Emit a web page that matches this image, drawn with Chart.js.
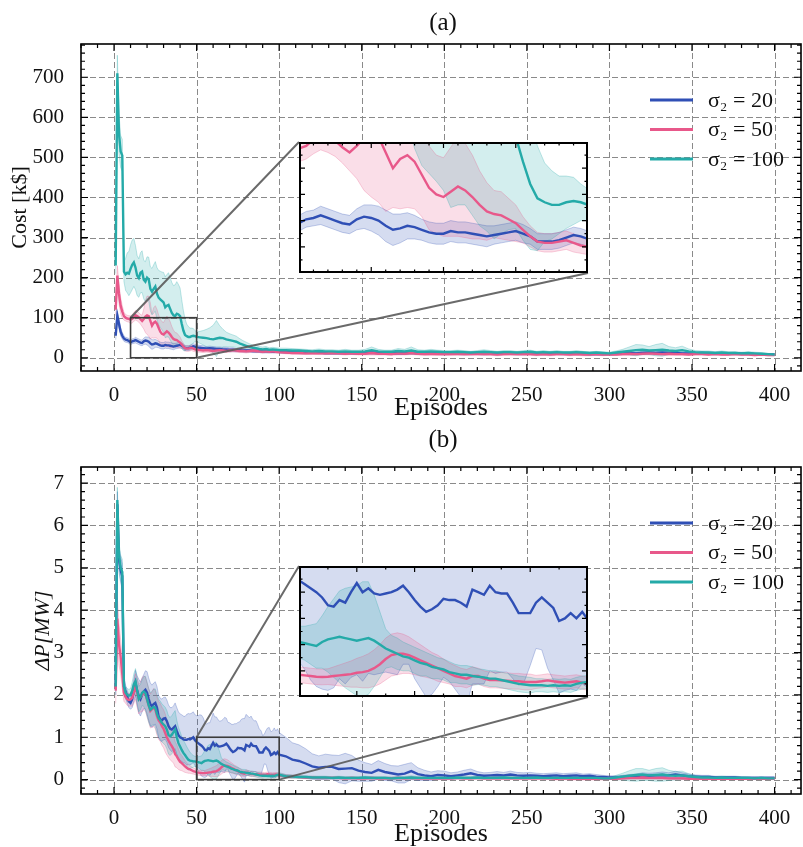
<!DOCTYPE html>
<html><head><meta charset="utf-8">
<script src="https://cdn.jsdelivr.net/npm/chart.js@4.4.1/dist/chart.umd.min.js"></script>
<style>
html,body{margin:0;padding:0;background:#fff;}
#wrap{position:relative;width:803px;height:847px;overflow:hidden;background:#fff;}
.box{position:absolute;}
</style></head><body>
<div id="wrap">
 <div class="box" id="boxA"><canvas id="chartA"></canvas></div>
 <div class="box" id="boxB"><canvas id="chartB"></canvas></div>
 <div class="box" id="boxIA"><canvas id="insetA"></canvas></div>
 <div class="box" id="boxIB"><canvas id="insetB"></canvas></div>
</div>
<script>
// ---------------- DATA ----------------
const episodesA = [
 1,2,3,4,5,6,7,8,9,10, 11,12,13,14,15,16,17,18,19,20, 21,22,23,24,25,26,27,28,29,30, 31,32,33,34,35,36,37,38,39,40, 41,42,43,44,45,46,47,48,49,50,
 52,54,56,58,60,62,64,66,68,70,72,74,76,78,80,82,84,86,88,90,92,94,96,98,100,
 104,108,112,116,120,124,128,132,136,140,144,148,152,156,160,164,168,172,176,180,184,188,192,196,200,
 204,208,212,216,220,224,228,232,236,240,244,248,252,256,260,264,268,272,276,280,284,288,292,296,300,
 304,308,312,316,320,324,328,332,336,340,344,348,352,356,360,364,368,372,376,380,384,388,392,396,400];

const episodesB = [
 1,2,3,4,5,6,7,8,9,10, 11,12,13,14,15,16,17,18,19,20, 21,22,23,24,25,26,27,28,29,30, 31,32,33,34,35,36,37,38,39,40, 41,42,43,44,45,46,47,48,49,50,
 51,52,53,54,55,56,57,58,59,60, 61,62,63,64,65,66,67,68,69,70, 71,72,73,74,75,76,77,78,79,80, 81,82,83,84,85,86,87,88,89,90, 91,92,93,94,95,96,97,98,99,100,
 104,108,112,116,120,124,128,132,136,140,144,148,152,156,160,164,168,172,176,180,184,188,192,196,200,
 204,208,212,216,220,224,228,232,236,240,244,248,252,256,260,264,268,272,276,280,284,288,292,296,300,
 304,308,312,316,320,324,328,332,336,340,344,348,352,356,360,364,368,372,376,380,384,388,392,396,400];

// (a) Cost [k$]
const costBlue = [
 55,105,85,65,55,48,45,44,42,38, 41,42,44,42,40,38,37,41,43,42, 40,36,33,34,36,35,33,31,30,30, 32,31,31,30,29,28,29,30,31,32, 30,28,24,24,24,25,27,29,28,26,
 25,24,23,24,23,22,22,21,21,20,20,19,19,18,18,18,17,17,17,16,16,16,15,15,15,
 14,14,13,13,13,13,12,12,12,12,12,11,12,13,12,11,11,12,11,13,11,11,11,11,10,
 11,11,10,11,11,10,11,10,11,11,10,10,11,10,10,10,11,10,10,10,10,9,10,9,9,
 10,11,12,11,12,13,12,13,12,12,11,11,11,12,11,11,11,10,11,10,10,9,9,8,8];
const costBlueStd = [
 10,12,12,10,8,7,6,6,6,6, 6,6,7,7,7,7,7,8,9,10, 11,12,12,11,10,9,8,8,8,8, 8,8,8,8,8,8,7,7,7,7, 7,6,6,6,6,6,6,6,6,6,
 6,6,5,5,5,5,5,5,5,5,5,4,4,4,4,4,4,4,4,4,4,4,3,3,3,
 3,3,3,3,3,3,3,3,3,3,3,3,3,4,3,3,3,3,3,4,3,3,3,3,3,
 3,3,3,3,3,3,3,3,3,3,3,3,3,3,3,3,3,3,3,3,3,3,3,3,2,
 3,3,4,3,4,4,3,4,3,3,3,3,3,3,3,3,3,3,3,3,2,2,2,2,2];
const costPink = [
 120,205,160,130,115,104,100,98,97,95, 97,102,106,104,101,96,92,97,103,106, 104,92,80,87,90,85,75,65,60,58, 62,66,63,58,52,47,45,44,41,38, 33,28,24,23,23,24,25,23,21,20,
 19,18,19,18,17,18,19,18,17,18,19,18,17,17,16,17,18,17,16,15,16,15,16,15,14,
 13,12,12,11,12,11,11,12,11,10,11,10,10,12,10,10,9,11,10,12,10,9,10,9,9,
 9,10,9,9,10,9,9,8,9,10,9,9,9,8,9,8,9,9,8,9,8,8,9,8,8,
 8,9,10,9,10,11,10,9,10,9,9,8,9,9,8,9,8,8,9,8,8,7,8,7,7];
const costPinkStd = [
 15,25,25,20,15,10,8,8,8,10, 10,11,12,12,12,12,14,25,40,48, 50,45,30,38,40,36,32,32,30,30, 34,38,36,32,26,22,18,18,16,14, 10,8,7,7,7,7,7,7,6,6,
 5,5,5,5,5,4,4,4,4,4,4,4,4,4,4,4,4,4,3,3,3,3,3,3,3,
 3,3,3,3,3,3,3,3,3,3,3,3,3,5,3,3,3,4,3,4,3,3,3,3,3,
 3,3,3,3,3,3,3,3,3,3,3,3,3,3,3,3,3,3,3,3,3,3,3,3,2,
 2,3,3,3,3,4,3,3,3,3,3,2,2,2,2,2,2,2,2,2,2,2,2,2,2];
const costTeal = [
 230,710,560,515,505,215,208,212,210,222, 232,238,225,205,199,212,215,195,190,200, 196,172,165,172,178,160,150,146,142,138, 126,130,132,122,112,106,104,110,108,104, 85,68,57,54,52,52,54,55,54,52,
 51,50,49,47,46,48,50,49,46,44,42,40,36,33,30,27,25,24,22,21,22,20,21,20,19,
 19,18,18,17,16,17,16,16,15,16,15,15,16,19,16,15,15,17,16,18,15,15,16,15,14,
 14,15,14,13,14,15,14,13,14,14,13,14,15,13,14,13,14,13,13,14,13,12,13,12,11,
 13,15,17,19,20,18,19,20,18,17,19,16,14,13,13,12,13,12,12,11,12,11,10,9,8];
const costTealStd = [
 20,45,50,40,40,25,40,50,55,60, 62,60,55,50,48,50,52,48,50,52, 55,55,58,60,62,65,68,70,72,75, 76,78,80,78,76,74,78,80,75,70, 60,50,40,30,26,22,20,18,14,12,
 15,18,22,28,35,45,30,22,18,16,15,14,12,10,9,8,7,7,6,6,6,5,5,5,5,
 5,5,4,4,4,5,4,4,4,5,4,4,5,8,5,4,4,6,5,9,5,4,5,4,4,
 4,4,4,3,4,5,4,3,4,4,3,4,4,3,4,3,4,3,3,4,3,3,3,3,3,
 4,6,10,14,12,10,14,16,10,8,10,6,4,4,4,3,4,3,3,3,3,3,3,2,2];

// (b) ΔP [MW]
const dpBlue = [
 2.2,6.5,5.2,4.95,4.8,2.2,2.08,1.95,1.85,1.81, 1.9,2.1,2.28,2.1,1.97,1.9,2.0,2.08,2.12,2.05, 1.9,1.78,1.73,1.78,1.81,1.7,1.49,1.42,1.4,1.44, 1.45,1.38,1.26,1.2,1.18,1.22,1.26,1.15,1.05,1.0, 0.98,0.95,0.94,0.94,0.96,0.95,0.97,1.0,0.93,0.89,
 0.86,0.83,0.8,0.76,0.7,0.69,0.74,0.72,0.8,0.87, 0.8,0.83,0.79,0.78,0.79,0.8,0.82,0.85,0.8,0.74, 0.69,0.65,0.67,0.7,0.75,0.74,0.74,0.72,0.69,0.82, 0.8,0.78,0.85,0.8,0.79,0.79,0.72,0.64,0.64,0.64, 0.72,0.76,0.72,0.68,0.58,0.6,0.64,0.6,0.65,0.59,
 0.55,0.47,0.44,0.38,0.31,0.28,0.3,0.3,0.25,0.26,0.27,0.21,0.18,0.16,0.23,0.18,0.15,0.12,0.14,0.2,0.13,0.1,0.08,0.11,0.1,
 0.08,0.1,0.12,0.15,0.11,0.09,0.1,0.11,0.1,0.12,0.1,0.09,0.1,0.09,0.08,0.09,0.1,0.08,0.09,0.1,0.08,0.09,0.07,0.06,0.05,
 0.05,0.06,0.07,0.08,0.1,0.09,0.1,0.11,0.1,0.12,0.1,0.08,0.07,0.06,0.06,0.05,0.05,0.05,0.05,0.04,0.04,0.04,0.04,0.04,0.04];
const dpBlueStd = [
 0.2,0.3,0.3,0.3,0.3,0.2,0.15,0.15,0.15,0.15, 0.2,0.25,0.3,0.35,0.4,0.4,0.4,0.4,0.45,0.5, 0.5,0.5,0.5,0.5,0.5,0.5,0.5,0.5,0.5,0.5, 0.5,0.5,0.5,0.5,0.52,0.52,0.55,0.55,0.55,0.55, 0.55,0.55,0.55,0.6,0.6,0.6,0.6,0.6,0.6,0.62,
 0.65,0.7,0.72,0.7,0.65,0.62,0.6,0.62,0.65,0.7, 0.68,0.65,0.62,0.6,0.6,0.62,0.65,0.6,0.55,0.6, 0.62,0.65,0.65,0.62,0.6,0.62,0.68,0.72,0.75,0.72, 0.7,0.68,0.65,0.62,0.6,0.6,0.58,0.55,0.52,0.4, 0.35,0.4,0.5,0.55,0.55,0.55,0.58,0.55,0.55,0.52,
 0.45,0.4,0.38,0.35,0.3,0.28,0.3,0.28,0.32,0.36,0.3,0.25,0.22,0.2,0.22,0.2,0.18,0.2,0.22,0.2,0.15,0.12,0.1,0.1,0.1,
 0.08,0.08,0.1,0.1,0.08,0.07,0.07,0.08,0.07,0.08,0.07,0.07,0.07,0.06,0.06,0.06,0.06,0.06,0.06,0.06,0.05,0.05,0.05,0.04,0.04,
 0.04,0.04,0.05,0.05,0.06,0.06,0.06,0.07,0.06,0.08,0.06,0.05,0.04,0.04,0.04,0.03,0.03,0.03,0.03,0.03,0.03,0.03,0.03,0.03,0.03];
const dpPink = [
 2.1,3.8,3.2,2.9,2.5,2.05,1.95,1.9,1.88,1.89, 1.93,2.05,2.2,2.05,1.9,1.95,2.0,2.05,2.02,1.88, 1.75,1.62,1.66,1.7,1.65,1.5,1.4,1.35,1.26,1.2, 1.1,1.0,0.92,0.85,0.79,0.72,0.6,0.55,0.48,0.42, 0.39,0.35,0.31,0.28,0.25,0.24,0.22,0.2,0.19,0.17,
 0.165,0.16,0.155,0.153,0.155,0.16,0.165,0.17,0.175,0.185, 0.19,0.2,0.22,0.25,0.29,0.32,0.33,0.33,0.32,0.3, 0.28,0.26,0.24,0.22,0.2,0.18,0.16,0.15,0.14,0.16, 0.16,0.14,0.13,0.13,0.127,0.125,0.12,0.12,0.115,0.115, 0.115,0.12,0.127,0.12,0.115,0.11,0.115,0.12,0.11,0.1,
 0.08,0.07,0.06,0.05,0.05,0.04,0.04,0.04,0.04,0.03,0.04,0.03,0.03,0.04,0.03,0.03,0.03,0.04,0.03,0.04,0.03,0.03,0.03,0.03,0.03,
 0.03,0.04,0.03,0.03,0.04,0.03,0.03,0.03,0.03,0.03,0.03,0.03,0.03,0.03,0.03,0.03,0.02,0.03,0.02,0.02,0.02,0.02,0.02,0.02,0.02,
 0.02,0.03,0.04,0.04,0.05,0.04,0.04,0.04,0.03,0.03,0.03,0.02,0.02,0.02,0.02,0.02,0.02,0.02,0.02,0.02,0.02,0.02,0.02,0.02,0.02];
const dpPinkStd = [
 0.3,0.5,0.5,0.4,0.35,0.2,0.15,0.15,0.15,0.15, 0.2,0.25,0.3,0.35,0.35,0.35,0.4,0.4,0.4,0.4, 0.4,0.4,0.42,0.45,0.45,0.45,0.45,0.45,0.45,0.45, 0.45,0.42,0.4,0.38,0.36,0.33,0.3,0.27,0.24,0.2, 0.18,0.16,0.14,0.12,0.1,0.09,0.08,0.07,0.07,0.06,
 0.06,0.06,0.06,0.06,0.06,0.07,0.08,0.09,0.1,0.11, 0.12,0.13,0.14,0.15,0.16,0.16,0.16,0.15,0.14,0.13, 0.12,0.11,0.1,0.1,0.09,0.08,0.08,0.07,0.07,0.07, 0.06,0.06,0.06,0.06,0.06,0.06,0.06,0.06,0.06,0.06, 0.05,0.05,0.05,0.05,0.05,0.05,0.05,0.05,0.05,0.05,
 0.04,0.04,0.03,0.03,0.03,0.03,0.03,0.03,0.03,0.03,0.03,0.03,0.03,0.03,0.03,0.03,0.03,0.03,0.03,0.03,0.03,0.03,0.03,0.03,0.03,
 0.03,0.03,0.03,0.03,0.03,0.03,0.03,0.03,0.03,0.03,0.03,0.03,0.03,0.03,0.03,0.03,0.03,0.03,0.03,0.03,0.03,0.03,0.03,0.03,0.02,
 0.02,0.03,0.04,0.04,0.05,0.04,0.04,0.04,0.03,0.03,0.03,0.02,0.02,0.02,0.02,0.02,0.02,0.02,0.02,0.02,0.02,0.02,0.02,0.02,0.02];
const dpTeal = [
 2.2,6.6,5.3,5.0,4.9,2.2,2.05,2.0,1.98,2.0, 2.1,2.25,2.32,2.1,1.9,1.95,2.05,2.08,2.04,1.9, 1.75,1.65,1.68,1.72,1.69,1.55,1.45,1.4,1.34,1.3, 1.26,1.18,1.05,1.02,1.06,1.12,1.18,1.0,0.86,0.78, 0.7,0.63,0.58,0.52,0.47,0.45,0.44,0.43,0.43,0.42,
 0.41,0.4,0.39,0.42,0.44,0.45,0.46,0.45,0.44,0.43, 0.44,0.45,0.43,0.4,0.37,0.35,0.33,0.31,0.3,0.28, 0.26,0.25,0.23,0.22,0.21,0.19,0.18,0.17,0.17,0.16, 0.155,0.15,0.14,0.14,0.13,0.12,0.11,0.1,0.095,0.09, 0.09,0.09,0.085,0.09,0.085,0.09,0.085,0.1,0.11,0.115,
 0.08,0.07,0.06,0.06,0.05,0.05,0.05,0.04,0.05,0.04,0.04,0.04,0.05,0.04,0.04,0.04,0.03,0.04,0.04,0.05,0.04,0.04,0.04,0.04,0.04,
 0.04,0.05,0.04,0.04,0.05,0.04,0.04,0.04,0.05,0.04,0.04,0.04,0.04,0.05,0.04,0.04,0.04,0.04,0.04,0.04,0.04,0.04,0.04,0.03,0.03,
 0.05,0.07,0.09,0.11,0.12,0.1,0.11,0.12,0.1,0.09,0.1,0.08,0.06,0.05,0.05,0.04,0.05,0.04,0.04,0.04,0.04,0.03,0.04,0.03,0.03];
const dpTealStd = [
 0.2,0.3,0.3,0.3,0.3,0.2,0.15,0.15,0.15,0.15, 0.2,0.25,0.3,0.3,0.3,0.3,0.3,0.35,0.4,0.4, 0.4,0.4,0.4,0.42,0.45,0.45,0.45,0.45,0.45,0.45, 0.45,0.45,0.45,0.45,0.45,0.45,0.45,0.4,0.38,0.35, 0.32,0.3,0.28,0.26,0.24,0.2,0.16,0.14,0.12,0.12,
 0.13,0.15,0.17,0.2,0.25,0.3,0.35,0.38,0.4,0.42, 0.44,0.43,0.35,0.25,0.15,0.12,0.12,0.11,0.1,0.1, 0.1,0.09,0.09,0.08,0.08,0.08,0.07,0.07,0.07,0.07, 0.06,0.06,0.06,0.06,0.06,0.06,0.06,0.06,0.06,0.06, 0.05,0.05,0.05,0.05,0.05,0.05,0.05,0.05,0.05,0.05,
 0.04,0.04,0.03,0.03,0.03,0.03,0.03,0.03,0.03,0.03,0.03,0.03,0.03,0.03,0.03,0.03,0.03,0.03,0.03,0.04,0.03,0.03,0.03,0.03,0.03,
 0.03,0.03,0.03,0.03,0.03,0.03,0.03,0.03,0.03,0.03,0.03,0.03,0.03,0.03,0.03,0.03,0.03,0.03,0.03,0.03,0.03,0.03,0.03,0.03,0.02,
 0.05,0.08,0.12,0.15,0.14,0.12,0.15,0.16,0.12,0.1,0.1,0.06,0.04,0.03,0.03,0.03,0.03,0.03,0.03,0.03,0.02,0.02,0.02,0.02,0.02];

const seriesLabels = ['σ₂ = 20', 'σ₂ = 50', 'σ₂ = 100'];
const panelTitles = ['(a)', '(b)'];
const xTickValues = [0, 50, 100, 150, 200, 250, 300, 350, 400];
const costTickValues = [0, 100, 200, 300, 400, 500, 600, 700];
const dpTickValues = [0, 1, 2, 3, 4, 5, 6, 7];

// ---------------- STYLE ----------------
const FONT = '"Liberation Serif","Times New Roman",serif';
const COLORS = [[47, 79, 181], [232, 88, 138], [36, 170, 168]];
const rgba = (c, a) => `rgba(${c[0]},${c[1]},${c[2]},${a})`;

function checkLen(ep, arrs, name) {
  arrs.forEach((a, i) => { if (a.length !== ep.length) throw new Error(name + ' #' + i + ' length ' + a.length + ' != ' + ep.length); });
}
checkLen(episodesA, [costBlue, costBlueStd, costPink, costPinkStd, costTeal, costTealStd], 'cost');
checkLen(episodesB, [dpBlue, dpBlueStd, dpPink, dpPinkStd, dpTeal, dpTealStd], 'dp');

const costSeries = [
  {label: seriesLabels[0], mean: costBlue, std: costBlueStd, rgb: COLORS[0]},
  {label: seriesLabels[1], mean: costPink, std: costPinkStd, rgb: COLORS[1]},
  {label: seriesLabels[2], mean: costTeal, std: costTealStd, rgb: COLORS[2]}];
const dpSeries = [
  {label: seriesLabels[0], mean: dpBlue, std: dpBlueStd, rgb: COLORS[0]},
  {label: seriesLabels[1], mean: dpPink, std: dpPinkStd, rgb: COLORS[1]},
  {label: seriesLabels[2], mean: dpTeal, std: dpTealStd, rgb: COLORS[2]}];

function buildDatasets(ep, list, lw) {
  const ds = [];
  list.forEach((s, k) => {
    const pts = f => ep.map((x, i) => ({x, y: f(i)}));
    ds.push({label: s.label + ' +std', data: pts(i => s.mean[i] + s.std[i]), borderColor: rgba(s.rgb, 0.28), borderWidth: 1,
      backgroundColor: rgba(s.rgb, 0.2), fill: '+1', pointRadius: 0, tension: 0, order: 12 - k});
    ds.push({label: s.label + ' -std', data: pts(i => s.mean[i] - s.std[i]), borderColor: rgba(s.rgb, 0.28), borderWidth: 1,
      fill: false, pointRadius: 0, tension: 0, order: 12 - k});
    ds.push({label: s.label, data: pts(i => s.mean[i]), borderColor: rgba(s.rgb, 1), borderWidth: lw,
      fill: false, pointRadius: 0, tension: 0, order: 3 - k});
  });
  return ds;
}

function range(min, max, step) {
  const out = [];
  const k0 = Math.ceil(min / step - 1e-9), k1 = Math.floor(max / step + 1e-9);
  for (let k = k0; k <= k1; k++) out.push(+(k * step).toFixed(6));
  return out;
}

function drawInTicks(ctx, a, xs, ys, xMaj, xMin, yMaj, yMin, majLen, minLen) {
  ctx.save();
  ctx.strokeStyle = '#000'; ctx.lineWidth = 1.2; ctx.setLineDash([]);
  ctx.beginPath();
  const vx = (v, len) => { const p = xs.getPixelForValue(v); if (p < a.left - 0.5 || p > a.right + 0.5) return;
    ctx.moveTo(p, a.bottom); ctx.lineTo(p, a.bottom - len); ctx.moveTo(p, a.top); ctx.lineTo(p, a.top + len); };
  const vy = (v, len) => { const p = ys.getPixelForValue(v); if (p < a.top - 0.5 || p > a.bottom + 0.5) return;
    ctx.moveTo(a.left, p); ctx.lineTo(a.left + len, p); ctx.moveTo(a.right, p); ctx.lineTo(a.right - len, p); };
  xMaj.forEach(v => vx(v, majLen)); xMin.forEach(v => vx(v, minLen));
  yMaj.forEach(v => vy(v, majLen)); yMin.forEach(v => vy(v, minLen));
  ctx.stroke();
  ctx.restore();
}

function mainDeco(g) {
  return {
    id: 'mainDeco',
    beforeDraw(c) {
      const ctx = c.ctx, a = c.chartArea, x = c.scales.x, y = c.scales.y;
      ctx.save();
      ctx.fillStyle = '#fff'; ctx.fillRect(0, 0, c.width, c.height);
      ctx.strokeStyle = '#8a8a8a'; ctx.lineWidth = 1; ctx.setLineDash([6, 3]);
      ctx.beginPath();
      xTickValues.forEach(v => { const p = Math.round(x.getPixelForValue(v)) + 0.5; ctx.moveTo(p, a.top); ctx.lineTo(p, a.bottom); });
      g.yTicks.forEach(v => { const p = Math.round(y.getPixelForValue(v)) + 0.5; ctx.moveTo(a.left, p); ctx.lineTo(a.right, p); });
      ctx.stroke();
      ctx.restore();
    },
    afterDatasetsDraw(c) {
      const ctx = c.ctx, x = c.scales.x, y = c.scales.y, r = g.zoom, ins = g.inset;
      const x0 = x.getPixelForValue(r.x0), x1 = x.getPixelForValue(r.x1);
      const y0 = y.getPixelForValue(r.y0), y1 = y.getPixelForValue(r.y1);
      const iy = ins.top - g.offsetTop;
      ctx.save();
      ctx.setLineDash([]);
      ctx.strokeStyle = 'rgba(90,90,90,0.9)'; ctx.lineWidth = 2;
      ctx.beginPath();
      ctx.moveTo(x0, y1); ctx.lineTo(ins.left, iy);
      ctx.moveTo(x1, y0); ctx.lineTo(ins.left + ins.width, iy + ins.height);
      ctx.stroke();
      ctx.strokeStyle = '#3c3c3c'; ctx.lineWidth = 1.6;
      ctx.strokeRect(x0, y1, x1 - x0, y0 - y1);
      ctx.restore();
    },
    afterDraw(c) {
      const ctx = c.ctx, a = c.chartArea, x = c.scales.x, y = c.scales.y;
      drawInTicks(ctx, a, x, y, xTickValues, range(-20, 416, 10), g.yTicks, range(g.yMin, g.yMax, g.yMinorStep), 7, 4);
      ctx.save();
      ctx.strokeStyle = '#000'; ctx.lineWidth = 1.6; ctx.setLineDash([]);
      ctx.strokeRect(a.left, a.top, a.right - a.left, a.bottom - a.top);
      ctx.fillStyle = '#111';
      const cx = (a.left + a.right) / 2;
      ctx.font = '25px ' + FONT; ctx.textAlign = 'center'; ctx.textBaseline = 'middle';
      ctx.fillText(g.title, cx + 2, g.titleY);
      ctx.font = '26px ' + FONT; ctx.textBaseline = 'alphabetic';
      ctx.fillText('Episodes', cx, a.bottom + g.xTitleDy);
      ctx.save();
      ctx.translate(g.yTitleX, (a.top + a.bottom) / 2); ctx.rotate(-Math.PI / 2);
      ctx.font = g.yTitleFont; ctx.textAlign = 'center'; ctx.textBaseline = 'middle';
      ctx.fillText(g.yTitle, 0, 0);
      ctx.restore();
      // legend
      g.series.forEach((s, i) => {
        const ly = a.top + 56 + i * 29.5;
        ctx.strokeStyle = rgba(s.rgb, 1); ctx.lineWidth = 2.8;
        ctx.beginPath(); ctx.moveTo(650, ly); ctx.lineTo(693, ly); ctx.stroke();
        ctx.font = '22px ' + FONT; ctx.textAlign = 'left'; ctx.textBaseline = 'middle'; ctx.fillStyle = '#111';
        ctx.fillText(s.label, 708, ly + 1);
      });
      ctx.restore();
    }
  };
}

function mainChart(id, boxId, g) {
  const box = document.getElementById(boxId);
  Object.assign(box.style, {left: '0px', top: g.offsetTop + 'px', width: '803px', height: g.height + 'px'});
  const tickFont = {family: FONT, size: 21};
  return new Chart(document.getElementById(id), {
    type: 'line',
    data: {datasets: buildDatasets(g.ep, g.series, 2.4)},
    options: {
      responsive: true, maintainAspectRatio: false, animation: false, devicePixelRatio: 1, events: [],
      layout: {padding: {top: g.padTop, right: 2, bottom: 0, left: 0}},
      plugins: {legend: {display: false}, tooltip: {enabled: false}, filler: {drawTime: 'beforeDatasetsDraw'}},
      scales: {
        x: {type: 'linear', min: -20, max: 416, grid: {display: false}, border: {display: false},
          afterBuildTicks: s => { s.ticks = xTickValues.map(v => ({value: v})); },
          afterFit: s => { s.height = g.xAxisH; },
          ticks: {font: tickFont, color: '#111', padding: 4, maxRotation: 0, autoSkip: false}},
        y: {type: 'linear', min: g.yMin, max: g.yMax, grid: {display: false}, border: {display: false},
          afterBuildTicks: s => { s.ticks = g.yTicks.map(v => ({value: v})); },
          afterFit: s => { s.width = 81; },
          ticks: {font: tickFont, color: '#111', padding: 9, autoSkip: false}}
      }
    },
    plugins: [mainDeco(g)]
  });
}

function insetChart(id, boxId, g) {
  const box = document.getElementById(boxId), r = g.rect;
  Object.assign(box.style, {left: r.left + 'px', top: r.top + 'px', width: r.width + 'px', height: r.height + 'px'});
  return new Chart(document.getElementById(id), {
    type: 'line',
    data: {datasets: buildDatasets(g.ep, g.series, 2.4)},
    options: {
      responsive: true, maintainAspectRatio: false, animation: false, devicePixelRatio: 1, events: [],
      layout: {padding: 0},
      plugins: {legend: {display: false}, tooltip: {enabled: false}, filler: {drawTime: 'beforeDatasetsDraw'}},
      scales: {
        x: {type: 'linear', display: false, min: g.x0, max: g.x1},
        y: {type: 'linear', display: false, min: g.y0, max: g.y1}
      }
    },
    plugins: [{
      id: 'insetDeco',
      beforeDraw(c) { c.ctx.save(); c.ctx.fillStyle = '#fff'; c.ctx.fillRect(0, 0, c.width, c.height); c.ctx.restore(); },
      afterDraw(c) {
        const ctx = c.ctx, a = c.chartArea;
        drawInTicks(ctx, a, c.scales.x, c.scales.y, range(g.x0, g.x1, g.xMaj), range(g.x0, g.x1, g.xMin),
          range(g.y0, g.y1, g.yMaj), range(g.y0, g.y1, g.yMin), 6, 3.5);
        ctx.save(); ctx.strokeStyle = '#000'; ctx.lineWidth = 2; ctx.setLineDash([]);
        ctx.strokeRect(1, 1, c.width - 2, c.height - 2); ctx.restore();
      }
    }]
  });
}

const insetRectA = {left: 299, top: 142, width: 289, height: 131};
const insetRectB = {left: 299, top: 566, width: 289, height: 131};

mainChart('chartA', 'boxA', {
  ep: episodesA, series: costSeries, offsetTop: 0, height: 420, padTop: 44, xAxisH: 49,
  yMin: -33, yMax: 783, yTicks: costTickValues, yMinorStep: 20,
  title: panelTitles[0], titleY: 23, xTitleDy: 44, yTitle: 'Cost [k$]', yTitleFont: '22px ' + FONT, yTitleX: 20,
  zoom: {x0: 10, x1: 50, y0: 0, y1: 100}, inset: insetRectA
});
mainChart('chartB', 'boxB', {
  ep: episodesB, series: dpSeries, offsetTop: 420, height: 427, padTop: 47, xAxisH: 53,
  yMin: -0.34, yMax: 7.38, yTicks: dpTickValues, yMinorStep: 0.2,
  title: panelTitles[1], titleY: 20, xTitleDy: 47, yTitle: 'ΔP[MW]', yTitleFont: 'italic 22px ' + FONT, yTitleX: 43,
  zoom: {x0: 50, x1: 100, y0: 0, y1: 1}, inset: insetRectB
});
insetChart('insetA', 'boxIA', {ep: episodesA, series: costSeries, rect: insetRectA, x0: 10, x1: 50, y0: 0, y1: 100, xMaj: 10, xMin: 2, yMaj: 20, yMin: 10});
insetChart('insetB', 'boxIB', {ep: episodesB, series: dpSeries, rect: insetRectB, x0: 50, x1: 100, y0: 0, y1: 1, xMaj: 10, xMin: 5, yMaj: 0.2, yMin: 0.1});
</script>
</body></html>
